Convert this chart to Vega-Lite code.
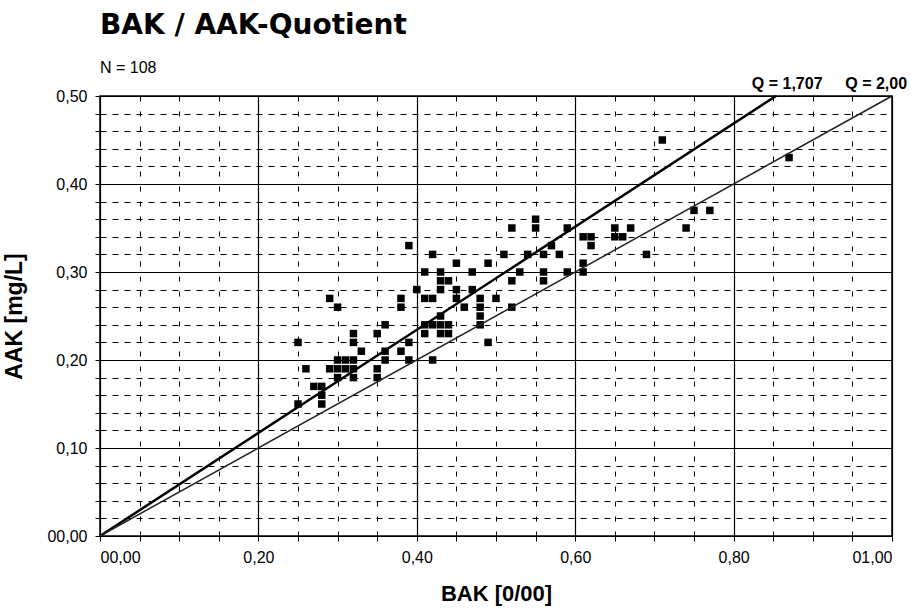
{
  "$schema": "https://vega.github.io/schema/vega-lite/v6.json",
  "width": 792,
  "height": 440,
  "autosize": {"type": "none"},
  "padding": {"left": 100, "top": 96, "right": 24, "bottom": 73},
  "background": "white",
  "title": {
    "text": "BAK / AAK-Quotient",
    "subtitle": "N = 108",
    "anchor": "start",
    "frame": "group",
    "font": "DejaVu Sans",
    "fontSize": 28,
    "fontWeight": "bold",
    "color": "black",
    "subtitleFont": "Liberation Sans",
    "subtitleFontSize": 16,
    "subtitleColor": "black",
    "subtitlePadding": 20,
    "offset": 0
  },
  "config": {
    "view": {"stroke": "black", "strokeWidth": 1.5},
    "axis": {
      "labelFont": "Liberation Sans Narrow, Arial Narrow, Liberation Sans",
      "labelFontSize": 16,
      "labelColor": "black",
      "titleFont": "Liberation Sans Narrow, Arial Narrow, Liberation Sans",
      "titleFontSize": 22,
      "titleFontWeight": "bold",
      "titleColor": "black",
      "tickColor": "black",
      "tickSize": 5,
      "tickCount": 200,
      "labelOverlap": false,
      "domain": false,
      "grid": true,
      "gridColor": "black",
      "gridOpacity": 1
    }
  },
  "datasets": {
    "points": [
      {"bak": 0.39, "aak": 0.33}, {"bak": 0.40, "aak": 0.28}, {"bak": 0.29, "aak": 0.27}, {"bak": 0.30, "aak": 0.26},
      {"bak": 0.38, "aak": 0.27}, {"bak": 0.38, "aak": 0.26}, {"bak": 0.36, "aak": 0.24}, {"bak": 0.32, "aak": 0.23},
      {"bak": 0.32, "aak": 0.22}, {"bak": 0.35, "aak": 0.23}, {"bak": 0.25, "aak": 0.22}, {"bak": 0.39, "aak": 0.22},
      {"bak": 0.33, "aak": 0.21}, {"bak": 0.36, "aak": 0.21}, {"bak": 0.38, "aak": 0.21}, {"bak": 0.30, "aak": 0.20},
      {"bak": 0.31, "aak": 0.20}, {"bak": 0.32, "aak": 0.20}, {"bak": 0.36, "aak": 0.20}, {"bak": 0.39, "aak": 0.20},
      {"bak": 0.26, "aak": 0.19}, {"bak": 0.29, "aak": 0.19}, {"bak": 0.30, "aak": 0.19}, {"bak": 0.31, "aak": 0.19},
      {"bak": 0.32, "aak": 0.19}, {"bak": 0.35, "aak": 0.19}, {"bak": 0.30, "aak": 0.18}, {"bak": 0.32, "aak": 0.18},
      {"bak": 0.35, "aak": 0.18}, {"bak": 0.27, "aak": 0.17}, {"bak": 0.28, "aak": 0.17}, {"bak": 0.28, "aak": 0.16},
      {"bak": 0.28, "aak": 0.15}, {"bak": 0.25, "aak": 0.15},
      {"bak": 0.55, "aak": 0.36}, {"bak": 0.55, "aak": 0.35}, {"bak": 0.52, "aak": 0.35}, {"bak": 0.42, "aak": 0.32},
      {"bak": 0.51, "aak": 0.32}, {"bak": 0.54, "aak": 0.32}, {"bak": 0.56, "aak": 0.32}, {"bak": 0.58, "aak": 0.32},
      {"bak": 0.45, "aak": 0.31}, {"bak": 0.49, "aak": 0.31}, {"bak": 0.57, "aak": 0.33}, {"bak": 0.41, "aak": 0.30},
      {"bak": 0.43, "aak": 0.30}, {"bak": 0.47, "aak": 0.30}, {"bak": 0.53, "aak": 0.30}, {"bak": 0.56, "aak": 0.30},
      {"bak": 0.43, "aak": 0.29}, {"bak": 0.44, "aak": 0.29}, {"bak": 0.52, "aak": 0.29}, {"bak": 0.56, "aak": 0.29},
      {"bak": 0.43, "aak": 0.28}, {"bak": 0.45, "aak": 0.28}, {"bak": 0.47, "aak": 0.28}, {"bak": 0.41, "aak": 0.27},
      {"bak": 0.42, "aak": 0.27}, {"bak": 0.45, "aak": 0.27}, {"bak": 0.48, "aak": 0.27}, {"bak": 0.50, "aak": 0.27},
      {"bak": 0.46, "aak": 0.26}, {"bak": 0.48, "aak": 0.26}, {"bak": 0.52, "aak": 0.26}, {"bak": 0.43, "aak": 0.25},
      {"bak": 0.48, "aak": 0.25}, {"bak": 0.41, "aak": 0.24}, {"bak": 0.42, "aak": 0.24}, {"bak": 0.43, "aak": 0.24},
      {"bak": 0.44, "aak": 0.24}, {"bak": 0.48, "aak": 0.24}, {"bak": 0.41, "aak": 0.23}, {"bak": 0.43, "aak": 0.23},
      {"bak": 0.44, "aak": 0.23}, {"bak": 0.49, "aak": 0.22}, {"bak": 0.42, "aak": 0.20},
      {"bak": 0.59, "aak": 0.35}, {"bak": 0.65, "aak": 0.35}, {"bak": 0.67, "aak": 0.35}, {"bak": 0.74, "aak": 0.35},
      {"bak": 0.75, "aak": 0.37}, {"bak": 0.77, "aak": 0.37}, {"bak": 0.61, "aak": 0.34}, {"bak": 0.62, "aak": 0.34},
      {"bak": 0.62, "aak": 0.33}, {"bak": 0.65, "aak": 0.34}, {"bak": 0.66, "aak": 0.34}, {"bak": 0.69, "aak": 0.32},
      {"bak": 0.61, "aak": 0.31}, {"bak": 0.59, "aak": 0.30}, {"bak": 0.61, "aak": 0.30}, {"bak": 0.87, "aak": 0.43},
      {"bak": 0.71, "aak": 0.45}
    ],
    "qlines": [
      {"q": "1,707", "bak": 0, "aak": 0}, {"q": "1,707", "bak": 0.8535, "aak": 0.5},
      {"q": "2,00", "bak": 0, "aak": 0}, {"q": "2,00", "bak": 1.0, "aak": 0.5}
    ],
    "qlabels": [
      {"label": "Q = 1,707", "bak": 0.823, "aak": 0.5},
      {"label": "Q = 2,00", "bak": 0.941, "aak": 0.5}
    ]
  },
  "layer": [
    {
      "data": {"name": "points"},
      "mark": {"type": "point", "shape": "square", "filled": true, "color": "black", "opacity": 1, "size": 56},
      "encoding": {
        "x": {
          "field": "bak", "type": "quantitative",
          "scale": {"domain": [0, 1], "nice": false, "zero": true},
          "axis": {
            "title": "BAK [0/00]",
            "titlePadding": 18,
            "labelPadding": 8,
            "tickCount": 200,
            "values": [0, 0.05, 0.1, 0.15, 0.2, 0.25, 0.3, 0.35, 0.4, 0.45, 0.5, 0.55, 0.6, 0.65, 0.7, 0.75, 0.8, 0.85, 0.9, 0.95, 1.0],
            "labelExpr": "abs(datum.value*5 - round(datum.value*5)) < 0.001 ? (datum.value == 0 ? '00,00' : (datum.value >= 0.999 ? '01,00' : replace(format(datum.value, '.2f'), '.', ','))) : ''",
            "gridDash": {"condition": {"test": "abs(datum.value*5 - round(datum.value*5)) < 0.001", "value": []}, "value": [5, 10]},
            "gridWidth": {"condition": {"test": "abs(datum.value*5 - round(datum.value*5)) < 0.001", "value": 1.2}, "value": 1}
          }
        },
        "y": {
          "field": "aak", "type": "quantitative",
          "scale": {"domain": [0, 0.5], "nice": false, "zero": true},
          "axis": {
            "title": "AAK [mg/L]",
            "titleFontSize": 23,
            "titlePadding": 20,
            "labelPadding": 8,
            "tickCount": 200,
            "values": [0, 0.02, 0.04, 0.06, 0.08, 0.1, 0.12, 0.14, 0.16, 0.18, 0.2, 0.22, 0.24, 0.26, 0.28, 0.3, 0.32, 0.34, 0.36, 0.38, 0.4, 0.42, 0.44, 0.46, 0.48, 0.5],
            "labelExpr": "abs(datum.value*10 - round(datum.value*10)) < 0.001 ? (datum.value == 0 ? '00,00' : replace(format(datum.value, '.2f'), '.', ',')) : ''",
            "gridDash": {"condition": {"test": "abs(datum.value*10 - round(datum.value*10)) < 0.001", "value": []}, "value": [6, 6]},
            "gridWidth": {"condition": {"test": "abs(datum.value*10 - round(datum.value*10)) < 0.001", "value": 1.2}, "value": 1}
          }
        }
      }
    },
    {
      "data": {"name": "qlines"},
      "transform": [{"filter": "datum.q == '1,707'"}],
      "mark": {"type": "line", "color": "black", "strokeWidth": 2.5},
      "encoding": {
        "x": {"field": "bak", "type": "quantitative"},
        "y": {"field": "aak", "type": "quantitative"}
      }
    },
    {
      "data": {"name": "qlines"},
      "transform": [{"filter": "datum.q == '2,00'"}],
      "mark": {"type": "line", "color": "#222222", "strokeWidth": 1.5},
      "encoding": {
        "x": {"field": "bak", "type": "quantitative"},
        "y": {"field": "aak", "type": "quantitative"}
      }
    },
    {
      "data": {"name": "qlabels"},
      "mark": {"type": "text", "align": "left", "baseline": "bottom", "dy": -4, "font": "Liberation Sans", "fontSize": 16, "fontWeight": "bold", "color": "black", "clip": false},
      "encoding": {
        "x": {"field": "bak", "type": "quantitative"},
        "y": {"field": "aak", "type": "quantitative"},
        "text": {"field": "label"}
      }
    }
  ]
}
